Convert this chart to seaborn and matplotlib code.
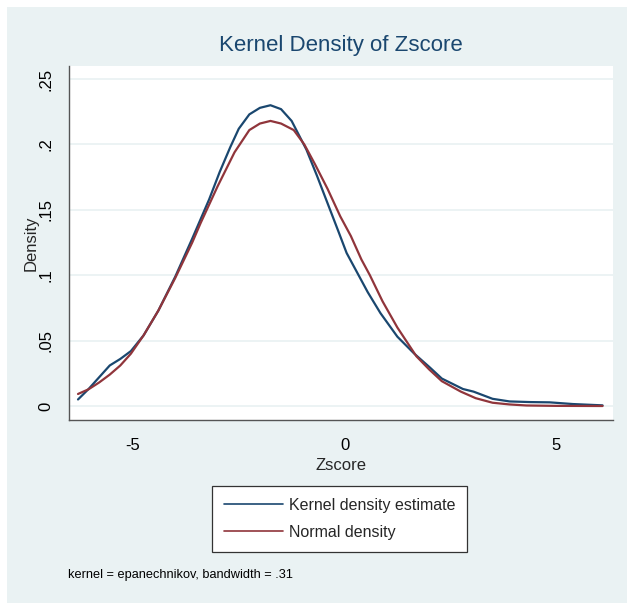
"""
Kernel density of Zscore with a normal density overlay,
redrawn in the look of a Stata s2color graph
"""
import pandas as pd
import seaborn as sns
import matplotlib.pyplot as plt
from matplotlib.patches import Rectangle

# values
kde_x = [-6.3, -6.05, -5.8, -5.55, -5.3, -5.05, -4.75, -4.4, -4.0, -3.6,
         -3.2, -2.95, -2.7, -2.5, -2.25, -2.0, -1.75, -1.5, -1.25, -0.9,
         -0.65, -0.4, -0.15, 0.05, 0.35, 0.55, 0.85, 1.25, 1.65, 2.0,
         2.3, 2.8, 3.05, 3.5, 3.9, 4.4, 4.85, 5.4, 6.1]
kde_y = [0.005, 0.013, 0.022, 0.031, 0.036, 0.042, 0.054, 0.073, 0.099,
         0.128, 0.158, 0.179, 0.198, 0.212, 0.223, 0.228, 0.230, 0.227,
         0.218, 0.196, 0.176, 0.155, 0.134, 0.117, 0.099, 0.087, 0.071,
         0.053, 0.040, 0.030, 0.021, 0.013, 0.011, 0.0055, 0.0035, 0.003,
         0.0028, 0.0015, 0.0005]

norm_x = [-6.3, -6.05, -5.8, -5.55, -5.3, -5.05, -4.75, -4.4, -4.0, -3.6,
          -3.4, -3.0, -2.6, -2.25, -2.0, -1.75, -1.5, -1.2, -0.95, -0.7,
          -0.4, -0.1, 0.15, 0.4, 0.6, 0.9, 1.25, 1.7, 2.0, 2.3, 2.75, 3.1,
          3.5, 3.9, 4.3, 5.0, 6.1]
norm_y = [0.0092, 0.0128, 0.018, 0.024, 0.031, 0.040, 0.054, 0.073, 0.098,
          0.125, 0.140, 0.168, 0.194, 0.211, 0.216, 0.218, 0.216, 0.211,
          0.200, 0.185, 0.166, 0.145, 0.130, 0.112, 0.100, 0.080, 0.060,
          0.038, 0.028, 0.019, 0.011, 0.006, 0.0025, 0.0012, 0.0004,
          0.0001, 0.0]

x_ticks = [-5, 0, 5]
x_labels = ['-5', '0', '5']
y_ticks = [0, 0.05, 0.1, 0.15, 0.2, 0.25]
y_labels = ['0', '.05', '.1', '.15', '.2', '.25']

BG = '#eaf2f3'
NAVY = '#1a476f'
MAROON = '#90353b'

sns.set_style('white')
plt.rcParams['font.family'] = ['Liberation Sans', 'DejaVu Sans']

kde_df = pd.DataFrame({'Zscore': kde_x, 'Density': kde_y})
norm_df = pd.DataFrame({'Zscore': norm_x, 'Density': norm_y})

fig = plt.figure(figsize=(6.27, 6.03), dpi=100, facecolor='white')
# light background with the thin white strip at top and left
fig.patches.append(Rectangle((7 / 627, 0), 1, 1 - 7 / 603,
                             transform=fig.transFigure, facecolor=BG,
                             edgecolor='none', zorder=-1))

ax = fig.add_axes([69 / 627, 1 - 420 / 603, 543.7 / 627, 354 / 603])
ax.set_facecolor('white')

sns.lineplot(x='Zscore', y='Density', data=kde_df, color=NAVY,
             linewidth=1.6, label='Kernel density estimate', ax=ax)
sns.lineplot(x='Zscore', y='Density', data=norm_df, color=MAROON,
             linewidth=1.6, label='Normal density', ax=ax)

ax.set_xlim(-6.513, 6.34)
ax.set_ylim(-0.0107, 0.26)
ax.set_xticks(x_ticks)
ax.set_xticklabels(x_labels)
ax.set_yticks(y_ticks)
ax.set_yticklabels(y_labels, rotation=90, va='center')
ax.tick_params(axis='both', direction='out', length=7, width=0.9,
               color='#333333', labelsize=12, labelcolor='black')
ax.tick_params(axis='x', pad=6)
ax.tick_params(axis='y', pad=4)
ax.yaxis.grid(True, color=BG, linewidth=1.3)
ax.set_axisbelow(True)

for side in ['top', 'right']:
    ax.spines[side].set_visible(False)
for side in ['left', 'bottom']:
    ax.spines[side].set_color('#555555')
    ax.spines[side].set_linewidth(1.0)

ax.set_xlabel('Zscore', fontsize=12, va='center')
ax.set_ylabel('Density', fontsize=12, va='center')
ax.xaxis.set_label_coords(0.5, (420 - 465) / 354)
ax.yaxis.set_label_coords((31 - 69) / 543.7, 0.5)

ax.get_legend().remove()
handles, labels = ax.get_legend_handles_labels()
leg = fig.legend(handles, labels, loc='center',
                 bbox_to_anchor=(339.5 / 627, 1 - 519 / 603), fontsize=11.5,
                 frameon=True, fancybox=False, handlelength=3.7,
                 handletextpad=0.4, borderpad=0.75, labelspacing=0.75,
                 borderaxespad=0)
leg.get_frame().set_edgecolor('#333333')
leg.get_frame().set_linewidth(0.9)
leg.get_frame().set_facecolor('white')
leg.get_frame().set_alpha(1)
for line in leg.get_lines():
    line.set_linewidth(1.2)

fig.text(340.9 / 627, 1 - 45 / 603, 'Kernel Density of Zscore',
         ha='center', va='center', fontsize=16, color=NAVY)
fig.text(68 / 627, 1 - 575 / 603,
         'kernel = epanechnikov, bandwidth = .31',
         ha='left', va='center', fontsize=9.2, color='black')

plt.savefig('out.png', dpi=100, facecolor=fig.get_facecolor())
